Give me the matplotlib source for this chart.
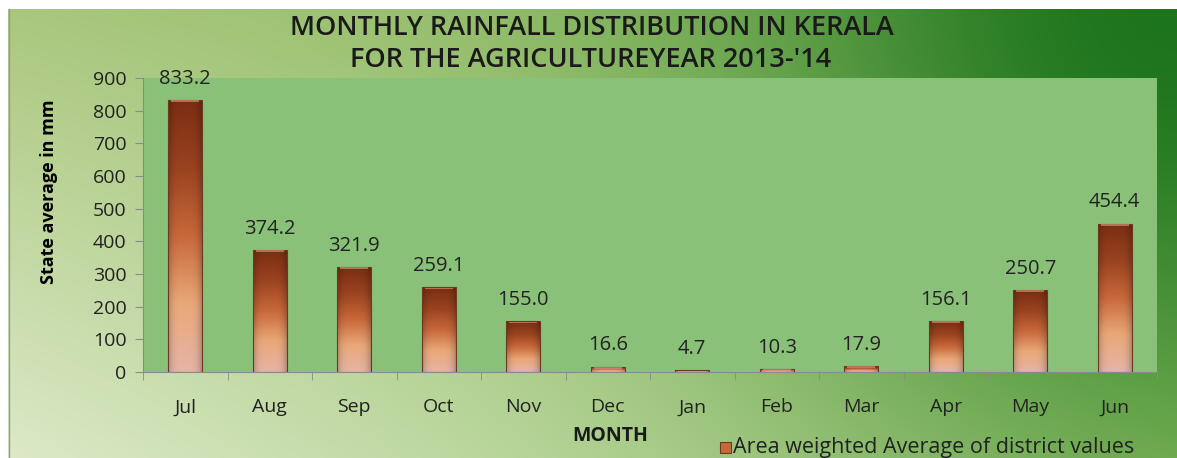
import numpy as np
import matplotlib.pyplot as plt
from matplotlib.colors import LinearSegmentedColormap, to_rgb
from matplotlib.patches import Rectangle
from matplotlib.lines import Line2D

months = ["Jul", "Aug", "Sep", "Oct", "Nov", "Dec", "Jan", "Feb", "Mar", "Apr", "May", "Jun"]
rainfall = [833.2, 374.2, 321.9, 259.1, 155.0, 16.6, 4.7, 10.3, 17.9, 156.1, 250.7, 454.4]
yticks = [0, 100, 200, 300, 400, 500, 600, 700, 800, 900]

plt.rcParams['font.family'] = ['Open Sans', 'DejaVu Sans']

W, H = 1177, 458
fig = plt.figure(figsize=(W / 100, H / 100), dpi=100)

# page background: corner blend plus a deep green glow in the upper right
bg = fig.add_axes([0, 0, 1, 1], zorder=-10)
bg.set_axis_off()
gx, gy = np.meshgrid(np.linspace(0, 1, 400), np.linspace(0, 1, 160))
tl, tr = np.array(to_rgb("#a9c77c")), np.array(to_rgb("#80b658"))
bl, br = np.array(to_rgb("#dde9c8")), np.array(to_rgb("#8ebf64"))
X, Y = gx[..., None], gy[..., None]
base = (tl * (1 - X) * Y + tr * X * Y + bl * (1 - X) * (1 - Y) + br * X * (1 - Y))
d = np.sqrt(((1 - gx) / 0.35) ** 2 + ((1 - gy) / 0.9) ** 2)
w = np.exp(-d ** 2)[..., None]
img = base * (1 - w) + np.array(to_rgb("#1c741c")) * w
bg.imshow(img, origin="lower", extent=[0, 1, 0, 1], aspect="auto")
bg.set_xlim(0, 1)
bg.set_ylim(0, 1)
# white margin at top and left
bg.add_patch(Rectangle((0, 1 - 9 / H), 1, 9 / H, color="white", lw=0))
bg.add_patch(Rectangle((0, 0), 8 / W, 1, color="white", lw=0))
bg.add_line(Line2D([8.5 / W, 8.5 / W], [0, 1 - 9 / H], color="#9a9a9a", lw=1))

ax = fig.add_axes([143 / W, 1 - 372 / H, (1157 - 143) / W, (372 - 78) / H])
ax.set_facecolor("#89c179")
x = np.arange(len(months))
bars = ax.bar(x, rainfall, width=0.4, color="none", edgecolor="#6b3a22", lw=0.8, zorder=3)

# bar shading: dark brown on top fading to pale peach at the base, darker at the sides
bar_cmap = LinearSegmentedColormap.from_list(
    "brown", ["#e6b4a6", "#eaa878", "#c8683a", "#9a4320", "#7a2e12"])
vy = np.linspace(0, 1, 100)[:, None]
hx = np.linspace(-1, 1, 40)[None, :]
for rect in bars:
    x0, bw, h = rect.get_x(), rect.get_width(), rect.get_height()
    rgb = bar_cmap(vy * np.ones_like(hx))[..., :3]
    rgb = rgb * (1 - 0.22 * hx ** 4)[..., None]
    im = ax.imshow(rgb, origin="lower", extent=[x0, x0 + bw, 0, h],
                   aspect="auto", zorder=2, interpolation="bilinear")
    im.set_clip_path(rect)
    # glossy highlight on the top face
    ax.add_patch(Rectangle((x0 + bw * 0.08, h - 6), bw * 0.84, 5,
                           color="#e09a80", alpha=0.6, lw=0, zorder=3))

for xi, v in zip(x, rainfall):
    ax.annotate(f"{v:.1f}", (xi, v), xytext=(0, 8), textcoords="offset points",
                ha="center", va="bottom", fontsize=14.5, color="#222222")

ax.set_xlim(-0.5, len(months) - 0.5)
ax.set_ylim(0, 900)
ax.set_yticks(yticks)
ax.tick_params(axis="y", labelsize=14, colors="#222222", length=6, color="#8a8a8a", pad=6)
ax.set_xticks(x)
ax.set_xticklabels(months)
ax.set_xticks(np.arange(-0.5, len(months)), minor=True)
ax.tick_params(axis="x", which="major", length=0, labelsize=14, colors="#222222", pad=19)
ax.tick_params(axis="x", which="minor", length=6, color="#8a8a8a")
for side in ["top", "right"]:
    ax.spines[side].set_visible(False)
ax.spines["left"].set_color("#8a8a8a")
ax.spines["bottom"].set_color("#8a8a8a")

ax.set_ylabel("State average in mm", fontsize=13, fontweight="bold")
ax.yaxis.set_label_coords(-0.084, 0.615)
fig.text(610 / W, 1 - 436 / H, "MONTH", fontsize=14, fontweight="bold",
         ha="center", va="center", color="#1a1a1a")

fig.text(592 / W, 1 - 28 / H, "MONTHLY RAINFALL DISTRIBUTION IN KERALA",
         fontsize=19.5, fontweight="semibold", ha="center", va="center", color="#1a1a1a")
fig.text(591 / W, 1 - 60 / H, "FOR THE AGRICULTUREYEAR 2013-'14",
         fontsize=19.5, fontweight="semibold", ha="center", va="center", color="#1a1a1a")

# legend entry
fig.add_artist(Rectangle((720 / W, 1 - 453 / H), 11 / W, 11 / H,
                         transform=fig.transFigure, facecolor="#c8683a",
                         edgecolor="#6b3a22", lw=0.8))
fig.text(733 / W, 1 - 447 / H, "Area weighted Average of district values",
         fontsize=15.5, ha="left", va="center", color="#222222")

fig.savefig("out.png", dpi=100)
